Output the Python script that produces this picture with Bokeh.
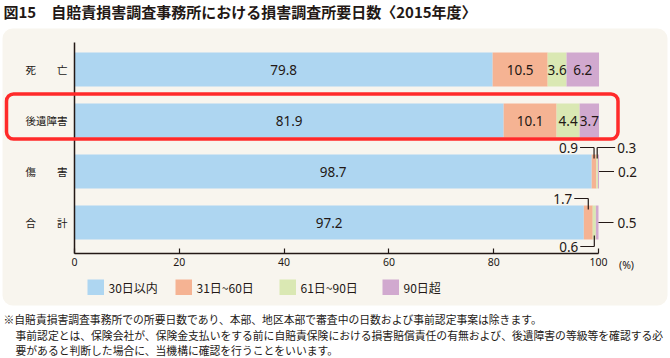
from bokeh.plotting import figure
from bokeh.models import Range1d, FixedTicker, BoxAnnotation, Label, ColumnDataSource
from bokeh.core.properties import value
from bokeh.embed import file_html
from bokeh.resources import INLINE

# ---------------- data ----------------
title_text = "図15　自賠責損害調査事務所における損害調査所要日数〈2015年度〉"
categories = ["死　　亡", "後遺障害", "傷　　害", "合　　計"]   # top -> bottom
series_names = ["30日以内", "31日~60日", "61日~90日", "90日超"]
within_30 = [79.8, 81.9, 98.7, 97.2]
days_31_60 = [10.5, 10.1, 0.9, 1.7]
days_61_90 = [3.6, 4.4, 0.3, 0.6]
over_90 = [6.2, 3.7, 0.2, 0.5]
x_ticks = [0, 20, 40, 60, 80, 100]
highlight_category = "後遺障害"
footnotes = [
    "※自賠責損害調査事務所での所要日数であり、本部、地区本部で審査中の日数および事前認定事案は除きます。",
    "事前認定とは、保険会社が、保険金支払いをする前に自賠責保険における損害賠償責任の有無および、後遺障害の等級等を確認する必",
    "要があると判断した場合に、当機構に確認を行うことをいいます。",
]
# placement of values too small to sit inside their bar segment
outside_placement = {
    ("傷　　害", 1): "above-left", ("傷　　害", 2): "above-right", ("傷　　害", 3): "right",
    ("合　　計", 1): "above-left", ("合　　計", 2): "below-left", ("合　　計", 3): "right",
}

# ---------------- style / layout ----------------
colors = ["#AED6F1", "#F5B393", "#DAE8B3", "#D1A9CF"]
TXT = "#231815"
PANEL = "#F8F5EE"
JP = "Noto Sans CJK JP"
NUM = "Noto Sans"

W, H = 670, 358
X0_PX, PX_X = 74.0, 5.24        # pixel of x=0, pixels per x unit
Y0_PX, PX_Y = 222.0, 51.0       # pixel of bottom bar centre, pixels per row
BAR_H = 34 / PX_Y


def X(px):
    return (px - X0_PX) / PX_X


def Y(py):
    return (Y0_PX - py) / PX_Y


n = len(categories)
ys = [n - 1 - i for i in range(n)]
series = [within_30, days_31_60, days_61_90, over_90]
keys = ["s0", "s1", "s2", "s3"]

src = ColumnDataSource(dict(y=ys, **{k: v for k, v in zip(keys, series)}))

p = figure(width=W, height=H, x_range=Range1d(X(0), X(W)), y_range=Range1d(Y(H), Y(0)),
           output_backend="svg", toolbar_location=None)
p.min_border = 0
p.title.visible = False
p.background_fill_color = "white"
p.border_fill_color = "white"
p.outline_line_color = None
p.grid.visible = False

# panel background
p.add_layout(BoxAnnotation(left=X(2), right=X(667), top=Y(28), bottom=Y(305),
                           fill_color=PANEL, fill_alpha=1, line_color=None,
                           border_radius=10, level="underlay"))

p.hbar_stack(keys, y="y", height=BAR_H, color=colors, line_color=None, source=src)

# axes (drawn inside the frame at fixed data locations)
axis_bottom = Y(253)
axis_top = Y(42)
xa = p.xaxis[0]
xa.fixed_location = axis_bottom
xa.ticker = FixedTicker(ticks=x_ticks)
xa.bounds = (0, 100)
xa.major_tick_in = 5
xa.major_tick_out = 0
xa.minor_tick_line_color = None
xa.axis_line_color = TXT
xa.axis_line_width = 1.5
xa.major_tick_line_color = TXT
xa.major_tick_line_width = 1.2
xa.major_label_text_font = NUM
xa.major_label_text_font_size = "10.5px"
xa.major_label_text_color = TXT
xa.major_label_standoff = 4

ya = p.yaxis[0]
ya.fixed_location = 0
ya.bounds = (axis_bottom, axis_top)
ya.ticker = FixedTicker(ticks=ys)
ya.major_label_overrides = {y: c for y, c in zip(ys, categories)}
ya.major_tick_in = 0
ya.major_tick_out = 0
ya.minor_tick_line_color = None
ya.axis_line_color = TXT
ya.axis_line_width = 1.5
ya.major_label_text_font = JP
ya.major_label_text_font_size = "10.5px"
ya.major_label_text_color = TXT
ya.major_label_standoff = 7

# value labels
in_x, in_y, in_t = [], [], []
out_x, out_y, out_t, out_align = [], [], [], []
sx0, sy0, sx1, sy1 = [], [], [], []
for i, cat in enumerate(categories):
    y = ys[i]
    left = 0.0
    total = sum(s[i] for s in series)
    for j, s in enumerate(series):
        v = s[i]
        cx = left + v / 2
        key = (cat, j)
        if key not in outside_placement:
            in_x.append(cx); in_y.append(y); in_t.append(f"{v:.1f}")
        else:
            mode = outside_placement[key]
            top = y + BAR_H / 2
            bot = y - BAR_H / 2
            if mode in ("above-left", "above-right", "below-left"):
                ly = top + 7 / PX_Y if mode.startswith("above") else bot - 7 / PX_Y
                inner = top - 4 / PX_Y if mode.startswith("above") else bot + 4 / PX_Y
                sx0.append(cx); sy0.append(ly); sx1.append(cx); sy1.append(inner)
                if mode.endswith("left"):
                    sx0.append(cx - 14 / PX_X); sy0.append(ly); sx1.append(cx); sy1.append(ly)
                    out_x.append(cx - 16 / PX_X); out_align.append("right")
                else:
                    sx0.append(cx); sy0.append(ly); sx1.append(cx + 18 / PX_X); sy1.append(ly)
                    out_x.append(cx + 20 / PX_X); out_align.append("left")
                out_y.append(ly); out_t.append(f"{v:.1f}")
            else:  # right of the bar end
                sx0.append(total); sy0.append(y); sx1.append(total + 15 / PX_X); sy1.append(y)
                out_x.append(total + 19 / PX_X); out_y.append(y); out_t.append(f"{v:.1f}")
                out_align.append("left")
        left += v

p.text(x=in_x, y=in_y, text=in_t, text_align="center", text_baseline="middle",
       text_font=value(NUM), text_font_size="13.5px", text_color=TXT)
p.segment(x0=sx0, y0=sy0, x1=sx1, y1=sy1, line_color=TXT, line_width=1.2)
p.text(x=out_x, y=out_y, text=out_t, text_align=out_align, text_baseline="middle",
       text_font=value(NUM), text_font_size="13.5px", text_color=TXT)

# highlight box
hy = ys[categories.index(highlight_category)]
p.add_layout(BoxAnnotation(left=X(6), right=X(617.5), top=hy + BAR_H / 2 + 9.5 / PX_Y,
                           bottom=hy - BAR_H / 2 - 1.5 / PX_Y, fill_color=None, fill_alpha=0,
                           line_color="#FF2A2A", line_alpha=1, line_width=3.5, border_radius=7))

# (%) label
p.add_layout(Label(x=X(626), y=Y(264), text="(%)", text_align="center", text_baseline="middle",
                   text_font=NUM, text_font_size="10.5px", text_color=TXT))

# title
p.add_layout(Label(x=X(3), y=Y(11), text=title_text, text_baseline="middle",
                   text_font=JP, text_font_size="15px", text_font_style="bold", text_color=TXT))

# legend
sq_left = [87, 175, 279, 382]
for k, name in enumerate(series_names):
    p.add_layout(BoxAnnotation(left=X(sq_left[k]), right=X(sq_left[k] + 16.5), top=Y(279),
                               bottom=Y(294.5), fill_color=colors[k], fill_alpha=1, line_color=None,
                               level="annotation"))
    p.add_layout(Label(x=X(sq_left[k] + 21), y=Y(286.5), text=name, text_baseline="middle",
                       text_font=JP, text_font_size="12px", text_color=TXT))

# footnotes
fn_x = [3, 15, 15]
fn_y = [318.5, 334, 349]
for t, fx, fy in zip(footnotes, fn_x, fn_y):
    p.add_layout(Label(x=X(fx), y=Y(fy), text=t, text_baseline="middle",
                       text_font=JP, text_font_size="10.8px", text_color=TXT))

open("out.html", "w").write(file_html(p, INLINE))
